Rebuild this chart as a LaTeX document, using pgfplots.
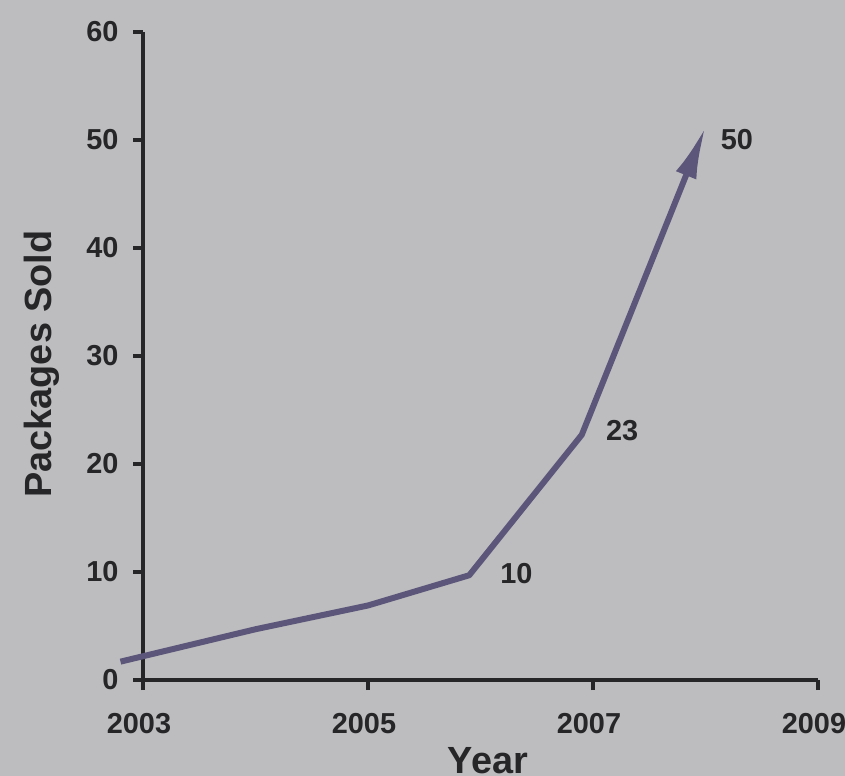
\documentclass[border=0pt]{standalone}
\usepackage{fontspec}
\setmainfont{Liberation Sans}
\usepackage{pgfplots}
\pgfplotsset{compat=1.18}
\usetikzlibrary{arrows.meta}
\definecolor{paper}{RGB}{189,189,191}
\definecolor{ink}{RGB}{38,38,40}
\definecolor{trend}{RGB}{92,87,122}
\newcommand{\tickfont}{\bfseries\fontsize{29}{29}\selectfont}
\newcommand{\labfont}{\bfseries\fontsize{38}{38}\selectfont}
\begin{document}
\begin{tikzpicture}
\path[use as bounding box, fill=paper] (0,0) rectangle (845bp,776bp);
\begin{axis}[
  at={(143bp,96bp)}, anchor=south west,
  scale only axis, width=675bp, height=648bp,
  xmin=2003, xmax=2009, ymin=0, ymax=60,
  axis lines*=left,
  axis line style={line width=4.5bp, ink},
  xtick={2003,2005,2007,2009},
  ytick={0,10,...,60},
  tick align=outside,
  major tick length=10bp,
  tick style={line width=4bp, ink},
  /pgf/number format/assume math mode=true,
  /pgf/number format/1000 sep={},
  tick label style={font=\tickfont, text=ink},
  yticklabel style={xshift=-11bp},
  xticklabel style={yshift=-20bp, xshift=-4bp},
  xlabel={Year}, ylabel={Packages Sold},
  xlabel style={font=\labfont, text=ink, at={(axis description cs:0.511,-0.145)}, anchor=base},
  ylabel style={font=\labfont, text=ink, at={(axis description cs:-0.1496,0.4877)}, anchor=center},
  clip=false,
]
\addplot[trend, line width=6bp, line join=round, -{Latex[length=52bp,width=22bp]}]
  coordinates {(2002.8,1.7) (2004,4.7) (2005,6.9) (2005.9,9.7) (2006.9,22.7) (2008,51.2)};
\node[font=\tickfont, text=ink] at (axis cs:2006.32,9.9) {10};
\node[font=\tickfont, text=ink] at (axis cs:2007.26,23.1) {23};
\node[font=\tickfont, text=ink] at (axis cs:2008.28,50.0) {50};
\end{axis}
\end{tikzpicture}
\end{document}
